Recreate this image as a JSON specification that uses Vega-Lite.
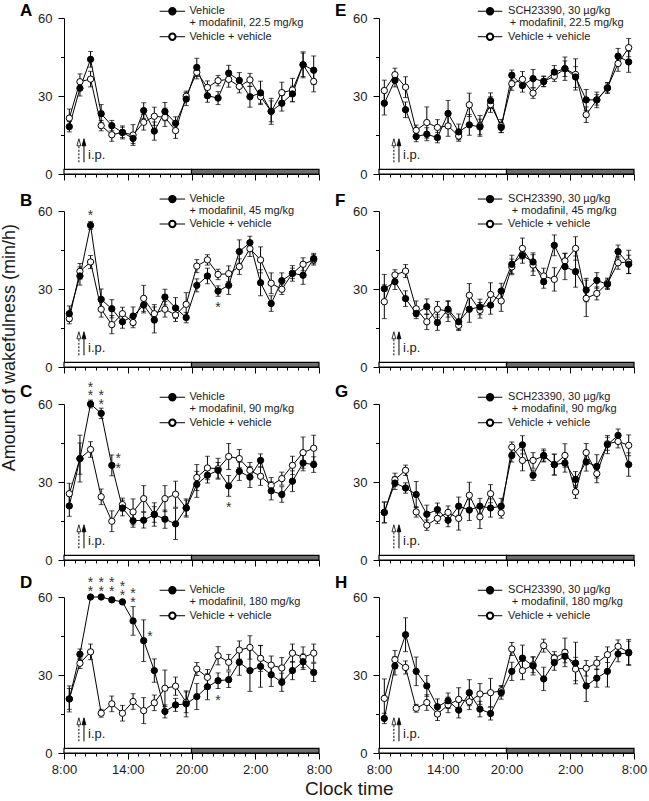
{
"$schema":"https://vega.github.io/schema/vega-lite/v6.json",
"padding":{"left":1,"top":2,"right":0,"bottom":0},
"background":"white",
"config":{"font":"Liberation Sans","view":{"stroke":null},"text":{"color":"#1a1a1a"},"title":{"color":"#1a1a1a"},"axis":{"labelOverlap":false,"labelFlush":false,"labelBound":false}},
"datasets":{
"bands":[{"a":0,"b":12,"ph":"light"},{"a":12,"b":24,"ph":"dark"}],
"ann":[
{"p":"A","k":"A","l1":"Vehicle","l2":"+ modafinil, 22.5 mg/kg","l3":"Vehicle + vehicle"},
{"p":"B","k":"B","l1":"Vehicle","l2":"+ modafinil, 45 mg/kg","l3":"Vehicle + vehicle"},
{"p":"C","k":"C","l1":"Vehicle","l2":"+ modafinil, 90 mg/kg","l3":"Vehicle + vehicle"},
{"p":"D","k":"D","l1":"Vehicle","l2":"+ modafinil, 180 mg/kg","l3":"Vehicle + vehicle"},
{"p":"E","k":"E","l1":"SCH23390, 30 µg/kg","l2":"+ modafinil, 22.5 mg/kg","l3":"Vehicle + vehicle"},
{"p":"F","k":"F","l1":"SCH23390, 30 µg/kg","l2":"+ modafinil, 45 mg/kg","l3":"Vehicle + vehicle"},
{"p":"G","k":"G","l1":"SCH23390, 30 µg/kg","l2":"+ modafinil, 90 mg/kg","l3":"Vehicle + vehicle"},
{"p":"H","k":"H","l1":"SCH23390, 30 µg/kg","l2":"+ modafinil, 180 mg/kg","l3":"Vehicle + vehicle"}],
"stars":[
{"p":"B","t":2.5,"y":59.6},{"p":"B","t":14.5,"y":24.1},
{"p":"C","t":2.5,"y":67.7},{"p":"C","t":2.5,"y":64.5},{"p":"C","t":3.5,"y":64.5},{"p":"C","t":3.5,"y":61},{"p":"C","t":5.1,"y":40.2},{"p":"C","t":5.1,"y":36.7},{"p":"C","t":15.5,"y":21.7},
{"p":"D","t":2.5,"y":66.8},{"p":"D","t":2.5,"y":63.6},{"p":"D","t":3.5,"y":66.8},{"p":"D","t":3.5,"y":63.6},{"p":"D","t":4.5,"y":66.8},{"p":"D","t":4.5,"y":63.6},{"p":"D","t":5.5,"y":65.5},{"p":"D","t":5.5,"y":61.9},{"p":"D","t":6.5,"y":62.7},{"p":"D","t":6.5,"y":59.4},{"p":"D","t":8.1,"y":46.1},{"p":"D","t":14.5,"y":21.7}],
"s":[
{"p":"A","t":0.5,"d":18.2,"ds":2,"v":21.5,"vs":3.5},{"p":"A","t":1.5,"d":33,"ds":3,"v":35.5,"vs":3},{"p":"A","t":2.5,"d":44.1,"ds":3,"v":36.5,"vs":3},{"p":"A","t":3.5,"d":23.2,"ds":3.5,"v":18.6,"vs":2},{"p":"A","t":4.5,"d":18.6,"ds":2,"v":15.1,"vs":2.5},{"p":"A","t":5.5,"d":16,"ds":2.5,"v":16,"vs":2},{"p":"A","t":6.5,"d":13.7,"ds":2,"v":15,"vs":4},{"p":"A","t":7.5,"d":24.4,"ds":3,"v":19.9,"vs":3},{"p":"A","t":8.5,"d":16.5,"ds":3.5,"v":22.2,"vs":3.5},{"p":"A","t":9.5,"d":24,"ds":3.5,"v":21.8,"vs":3.5},{"p":"A","t":10.5,"d":19.5,"ds":2.5,"v":16.7,"vs":3},{"p":"A","t":11.5,"d":28.8,"ds":2.5,"v":29.9,"vs":2},{"p":"A","t":12.5,"d":41,"ds":3.5,"v":39.1,"vs":2.5},{"p":"A","t":13.5,"d":30.1,"ds":2.5,"v":33.3,"vs":2.5},{"p":"A","t":14.5,"d":29.2,"ds":2.5,"v":35.9,"vs":2},{"p":"A","t":15.5,"d":38.8,"ds":3,"v":36.4,"vs":3},{"p":"A","t":16.5,"d":36,"ds":3,"v":33.7,"vs":2.5},{"p":"A","t":17.5,"d":29.7,"ds":4,"v":36.2,"vs":2.5},{"p":"A","t":18.5,"d":31.2,"ds":4.5,"v":29.7,"vs":2.5},{"p":"A","t":19.5,"d":24.1,"ds":4,"v":24.1,"vs":5},{"p":"A","t":20.5,"d":27.2,"ds":3,"v":31.3,"vs":4},{"p":"A","t":21.5,"d":30.8,"ds":3,"v":32.3,"vs":4.5},{"p":"A","t":22.5,"d":42,"ds":5,"v":42,"vs":4.5},{"p":"A","t":23.5,"d":39.9,"ds":5.5,"v":35.6,"vs":4},
{"p":"B","t":0.5,"d":20.5,"ds":3,"v":18.6,"vs":2},{"p":"B","t":1.5,"d":35,"ds":3.5,"v":36.8,"vs":3},{"p":"B","t":2.5,"d":54.5,"ds":1.5,"v":40.4,"vs":2.5},{"p":"B","t":3.5,"d":26,"ds":4,"v":22.2,"vs":3},{"p":"B","t":4.5,"d":22.4,"ds":3.5,"v":16.3,"vs":3.5},{"p":"B","t":5.5,"d":17.4,"ds":2.5,"v":20.5,"vs":2.5},{"p":"B","t":6.5,"d":19.6,"ds":3.5,"v":17.1,"vs":2},{"p":"B","t":7.5,"d":23.8,"ds":3,"v":26.4,"vs":5},{"p":"B","t":8.5,"d":18.1,"ds":5,"v":20.5,"vs":3.5},{"p":"B","t":9.5,"d":26.9,"ds":3,"v":22.2,"vs":3},{"p":"B","t":10.5,"d":22.7,"ds":4,"v":20,"vs":2.5},{"p":"B","t":11.5,"d":19,"ds":2,"v":24.1,"vs":4.5},{"p":"B","t":12.5,"d":31.4,"ds":2.5,"v":38.8,"vs":2.5},{"p":"B","t":13.5,"d":35,"ds":3,"v":41.2,"vs":2},{"p":"B","t":14.5,"d":29.2,"ds":2,"v":35.6,"vs":2},{"p":"B","t":15.5,"d":31.4,"ds":3.5,"v":35.9,"vs":3},{"p":"B","t":16.5,"d":44.4,"ds":4.5,"v":38.6,"vs":3},{"p":"B","t":17.5,"d":47.8,"ds":2.5,"v":45.5,"vs":3},{"p":"B","t":18.5,"d":32.4,"ds":5,"v":41.2,"vs":5},{"p":"B","t":19.5,"d":24.4,"ds":3,"v":32.2,"vs":4},{"p":"B","t":20.5,"d":33.2,"ds":3,"v":29.9,"vs":2},{"p":"B","t":21.5,"d":36,"ds":3,"v":36,"vs":2},{"p":"B","t":22.5,"d":35.3,"ds":3.5,"v":39.5,"vs":2.5},{"p":"B","t":23.5,"d":41.7,"ds":2,"v":41.2,"vs":2},
{"p":"C","t":0.5,"d":20.8,"ds":4,"v":25.5,"vs":4},{"p":"C","t":1.5,"d":39,"ds":9,"v":39,"vs":6},{"p":"C","t":2.5,"d":60,"ds":1.5,"v":42.5,"vs":3},{"p":"C","t":3.5,"d":56.4,"ds":2,"v":24.3,"vs":3},{"p":"C","t":4.5,"d":36.4,"ds":4,"v":14.9,"vs":4},{"p":"C","t":5.5,"d":20,"ds":3,"v":21.3,"vs":2.5},{"p":"C","t":6.5,"d":15.1,"ds":2.5,"v":18.5,"vs":5},{"p":"C","t":7.5,"d":15.3,"ds":3,"v":23.6,"vs":5},{"p":"C","t":8.5,"d":17.5,"ds":3,"v":17.5,"vs":4.5},{"p":"C","t":9.5,"d":15.7,"ds":3.5,"v":23.6,"vs":5},{"p":"C","t":10.5,"d":13.9,"ds":6,"v":25.3,"vs":5},{"p":"C","t":11.5,"d":20,"ds":3.5,"v":20,"vs":3},{"p":"C","t":12.5,"d":29.1,"ds":5,"v":31.7,"vs":5},{"p":"C","t":13.5,"d":32.6,"ds":3,"v":35.4,"vs":4.5},{"p":"C","t":14.5,"d":34.5,"ds":3,"v":35.1,"vs":4},{"p":"C","t":15.5,"d":28.5,"ds":4,"v":39.8,"vs":5},{"p":"C","t":16.5,"d":34.1,"ds":3.5,"v":39,"vs":3.5},{"p":"C","t":17.5,"d":31.9,"ds":4,"v":34.5,"vs":3},{"p":"C","t":18.5,"d":38.3,"ds":2.5,"v":32.2,"vs":3.5},{"p":"C","t":19.5,"d":26.6,"ds":3.5,"v":28.7,"vs":3},{"p":"C","t":20.5,"d":25.2,"ds":3,"v":31.3,"vs":2.5},{"p":"C","t":21.5,"d":30.3,"ds":4,"v":36.4,"vs":3.5},{"p":"C","t":22.5,"d":37.3,"ds":3,"v":41.3,"vs":6},{"p":"C","t":23.5,"d":36.7,"ds":3,"v":43,"vs":5},
{"p":"D","t":0.5,"d":20.8,"ds":5,"v":20.8,"vs":4},{"p":"D","t":1.5,"d":38,"ds":2,"v":34.5,"vs":2},{"p":"D","t":2.5,"d":60,"ds":0.5,"v":38.9,"vs":3},{"p":"D","t":3.5,"d":60,"ds":0.5,"v":15.3,"vs":1.5},{"p":"D","t":4.5,"d":58.9,"ds":1,"v":18.9,"vs":3},{"p":"D","t":5.5,"d":58.1,"ds":1,"v":15.3,"vs":3},{"p":"D","t":6.5,"d":50.8,"ds":5.5,"v":19.8,"vs":3},{"p":"D","t":7.5,"d":43.2,"ds":8,"v":16.3,"vs":5},{"p":"D","t":8.5,"d":31.7,"ds":4.5,"v":19.3,"vs":3},{"p":"D","t":9.5,"d":16,"ds":2.5,"v":24.9,"vs":7},{"p":"D","t":10.5,"d":18.5,"ds":2.5,"v":25.7,"vs":3.5},{"p":"D","t":11.5,"d":18.9,"ds":5,"v":19.5,"vs":4},{"p":"D","t":12.5,"d":21.7,"ds":5,"v":32.3,"vs":2.5},{"p":"D","t":13.5,"d":25.5,"ds":5,"v":29.1,"vs":3},{"p":"D","t":14.5,"d":27.8,"ds":3,"v":37.4,"vs":3.5},{"p":"D","t":15.5,"d":28.2,"ds":3,"v":34.9,"vs":3},{"p":"D","t":16.5,"d":34.9,"ds":5,"v":39.6,"vs":3.5},{"p":"D","t":17.5,"d":31.7,"ds":8,"v":40.6,"vs":4.5},{"p":"D","t":18.5,"d":33.3,"ds":8,"v":36.4,"vs":5},{"p":"D","t":19.5,"d":30.1,"ds":4.5,"v":33.8,"vs":3.5},{"p":"D","t":20.5,"d":27.2,"ds":3.5,"v":32.7,"vs":4},{"p":"D","t":21.5,"d":31.7,"ds":3.5,"v":38.4,"vs":3.5},{"p":"D","t":22.5,"d":35.1,"ds":3,"v":36.8,"vs":4},{"p":"D","t":23.5,"d":31,"ds":3.5,"v":38.4,"vs":3.5},
{"p":"E","t":0.5,"d":27.2,"ds":4.5,"v":32.1,"vs":4},{"p":"E","t":1.5,"d":36,"ds":2.5,"v":38.2,"vs":2.5},{"p":"E","t":2.5,"d":24.7,"ds":3,"v":33.4,"vs":4},{"p":"E","t":3.5,"d":14.4,"ds":2,"v":16.8,"vs":2},{"p":"E","t":4.5,"d":15.3,"ds":2.5,"v":19.8,"vs":6},{"p":"E","t":5.5,"d":14,"ds":2,"v":17.9,"vs":3},{"p":"E","t":6.5,"d":23.3,"ds":5,"v":18.5,"vs":4},{"p":"E","t":7.5,"d":16.2,"ds":3,"v":14.6,"vs":2},{"p":"E","t":8.5,"d":18.9,"ds":4,"v":26.6,"vs":4.5},{"p":"E","t":9.5,"d":18.1,"ds":3,"v":18.5,"vs":4},{"p":"E","t":10.5,"d":28.2,"ds":3,"v":26.7,"vs":3},{"p":"E","t":11.5,"d":17.9,"ds":2,"v":18.5,"vs":2.5},{"p":"E","t":12.5,"d":38,"ds":2,"v":34.7,"vs":2.5},{"p":"E","t":13.5,"d":34,"ds":2.5,"v":36.4,"vs":3},{"p":"E","t":14.5,"d":36.7,"ds":3.5,"v":31.1,"vs":2},{"p":"E","t":15.5,"d":35.6,"ds":2,"v":35.6,"vs":2},{"p":"E","t":16.5,"d":39.2,"ds":2.5,"v":37.6,"vs":2},{"p":"E","t":17.5,"d":40.5,"ds":4.5,"v":40.5,"vs":3},{"p":"E","t":18.5,"d":37.3,"ds":4,"v":38.3,"vs":6},{"p":"E","t":19.5,"d":28.5,"ds":4,"v":22.8,"vs":3},{"p":"E","t":20.5,"d":28.5,"ds":3,"v":28.5,"vs":2},{"p":"E","t":21.5,"d":33,"ds":2,"v":33.2,"vs":2},{"p":"E","t":22.5,"d":45.3,"ds":3,"v":42.5,"vs":3},{"p":"E","t":23.5,"d":43.1,"ds":4,"v":48.6,"vs":3.5},
{"p":"F","t":0.5,"d":30.1,"ds":5.5,"v":25.1,"vs":6.5},{"p":"F","t":1.5,"d":32.8,"ds":3,"v":35.4,"vs":2},{"p":"F","t":2.5,"d":26.3,"ds":3,"v":36.9,"vs":2.5},{"p":"F","t":3.5,"d":20.6,"ds":2,"v":22.4,"vs":3},{"p":"F","t":4.5,"d":23.2,"ds":3,"v":17.4,"vs":3},{"p":"F","t":5.5,"d":17.1,"ds":3,"v":22.2,"vs":3},{"p":"F","t":6.5,"d":22.2,"ds":3,"v":21.5,"vs":4},{"p":"F","t":7.5,"d":17.4,"ds":3,"v":16,"vs":2},{"p":"F","t":8.5,"d":22.2,"ds":5,"v":27.6,"vs":4.5},{"p":"F","t":9.5,"d":23.1,"ds":3,"v":21.8,"vs":3},{"p":"F","t":10.5,"d":23.8,"ds":3.5,"v":27.9,"vs":4.5},{"p":"F","t":11.5,"d":29.2,"ds":3,"v":25.4,"vs":4},{"p":"F","t":12.5,"d":39.5,"ds":3.5,"v":38.5,"vs":3},{"p":"F","t":13.5,"d":42.9,"ds":3,"v":45.6,"vs":4},{"p":"F","t":14.5,"d":40.4,"ds":3.5,"v":39.2,"vs":4},{"p":"F","t":15.5,"d":32.8,"ds":2.5,"v":35,"vs":3},{"p":"F","t":16.5,"d":46.8,"ds":4,"v":33.7,"vs":4.5},{"p":"F","t":17.5,"d":38.6,"ds":5,"v":40.8,"vs":3},{"p":"F","t":18.5,"d":36.7,"ds":6,"v":45.6,"vs":4.5},{"p":"F","t":19.5,"d":29.6,"ds":4.5,"v":26.4,"vs":7},{"p":"F","t":20.5,"d":33.3,"ds":3,"v":28.3,"vs":2.5},{"p":"F","t":21.5,"d":31.8,"ds":2,"v":32.2,"vs":2},{"p":"F","t":22.5,"d":44.4,"ds":2.5,"v":40.1,"vs":2.5},{"p":"F","t":23.5,"d":39.5,"ds":3.5,"v":40.4,"vs":4.5},
{"p":"G","t":0.5,"d":18.3,"ds":4,"v":18.3,"vs":4},{"p":"G","t":1.5,"d":29.6,"ds":2.5,"v":30.9,"vs":2.5},{"p":"G","t":2.5,"d":27.7,"ds":2,"v":34.5,"vs":2},{"p":"G","t":3.5,"d":25.2,"ds":5,"v":18.5,"vs":2},{"p":"G","t":4.5,"d":17.6,"ds":3.5,"v":13.4,"vs":2},{"p":"G","t":5.5,"d":19.4,"ds":2.5,"v":16,"vs":2},{"p":"G","t":6.5,"d":15.3,"ds":2.5,"v":18.3,"vs":2.5},{"p":"G","t":7.5,"d":20.7,"ds":3.5,"v":16,"vs":4.5},{"p":"G","t":8.5,"d":19.2,"ds":4,"v":24.9,"vs":5},{"p":"G","t":9.5,"d":20.7,"ds":3,"v":16.6,"vs":4.5},{"p":"G","t":10.5,"d":20,"ds":3.5,"v":25.5,"vs":3.5},{"p":"G","t":11.5,"d":20.7,"ds":3,"v":18.1,"vs":2},{"p":"G","t":12.5,"d":40.2,"ds":2.5,"v":43.4,"vs":2},{"p":"G","t":13.5,"d":44.3,"ds":3.5,"v":38.3,"vs":4},{"p":"G","t":14.5,"d":32.6,"ds":2,"v":38.3,"vs":3},{"p":"G","t":15.5,"d":40.2,"ds":2.5,"v":40,"vs":2},{"p":"G","t":16.5,"d":36.7,"ds":4,"v":36.7,"vs":4},{"p":"G","t":17.5,"d":37.3,"ds":3.5,"v":40.2,"vs":4.5},{"p":"G","t":18.5,"d":31,"ds":3,"v":26.2,"vs":2.5},{"p":"G","t":19.5,"d":37.7,"ds":3.5,"v":41.3,"vs":3.5},{"p":"G","t":20.5,"d":36,"ds":4.5,"v":33.2,"vs":3.5},{"p":"G","t":21.5,"d":44.4,"ds":3.5,"v":44.7,"vs":2.5},{"p":"G","t":22.5,"d":47.9,"ds":2.5,"v":45.6,"vs":2.5},{"p":"G","t":23.5,"d":36.7,"ds":4.5,"v":44.1,"vs":4},
{"p":"H","t":0.5,"d":13.3,"ds":2,"v":21,"vs":7.5},{"p":"H","t":1.5,"d":33.5,"ds":3.5,"v":35.9,"vs":3.5},{"p":"H","t":2.5,"d":45.5,"ds":6.5,"v":32.9,"vs":2.5},{"p":"H","t":3.5,"d":31.4,"ds":5.5,"v":17.2,"vs":1.5},{"p":"H","t":4.5,"d":25.8,"ds":4,"v":19.4,"vs":3},{"p":"H","t":5.5,"d":17.8,"ds":3,"v":15,"vs":2.5},{"p":"H","t":6.5,"d":20.1,"ds":3,"v":18.5,"vs":3},{"p":"H","t":7.5,"d":16.5,"ds":3,"v":20.6,"vs":4.5},{"p":"H","t":8.5,"d":23.2,"ds":5,"v":19.7,"vs":3},{"p":"H","t":9.5,"d":16.9,"ds":3,"v":22.7,"vs":4},{"p":"H","t":10.5,"d":15.2,"ds":2.5,"v":23.2,"vs":5.5},{"p":"H","t":11.5,"d":23.2,"ds":2.5,"v":23.9,"vs":2},{"p":"H","t":12.5,"d":31.4,"ds":3.5,"v":40,"vs":2.5},{"p":"H","t":13.5,"d":36.5,"ds":5,"v":31.7,"vs":3.5},{"p":"H","t":14.5,"d":33.5,"ds":3.5,"v":33.9,"vs":3},{"p":"H","t":15.5,"d":28.5,"ds":4.5,"v":41.3,"vs":2.5},{"p":"H","t":16.5,"d":34.8,"ds":3,"v":36.5,"vs":2.5},{"p":"H","t":17.5,"d":37.2,"ds":2.5,"v":38.7,"vs":5.5},{"p":"H","t":18.5,"d":34.6,"ds":8,"v":32.3,"vs":4.5},{"p":"H","t":19.5,"d":25.8,"ds":6,"v":32.6,"vs":3},{"p":"H","t":20.5,"d":28.8,"ds":3.5,"v":34.6,"vs":2.5},{"p":"H","t":21.5,"d":31.4,"ds":6,"v":37.8,"vs":3},{"p":"H","t":22.5,"d":38.1,"ds":3,"v":41,"vs":2.5},{"p":"H","t":23.5,"d":38.5,"ds":4.5,"v":38.7,"vs":5}]
},
"title":{"text":"Amount of wakefulness (min/h)","orient":"left","anchor":"middle","fontSize":18,"fontWeight":"normal","offset":1,"dx":53},
"vconcat":[{
"columns":2,"spacing":{"row":37,"column":60},"bounds":"flush",
"title":{"text":"Clock time","orient":"bottom","anchor":"middle","frame":"bounds","fontSize":19,"fontWeight":"normal","offset":4,"dx":16},
"concat":[
{"width":255,"height":156,"layer":[
{"data":{"name":"bands"},"mark":{"type":"rect","stroke":"black","strokeWidth":1.2},"encoding":{"x":{"field":"a","type":"quantitative","scale":{"domain":[0,24],"nice":false,"zero":false},"axis":{"values":[0,1,2,3,4,5,6,7,8,9,10,11,12,13,14,15,16,17,18,19,20,21,22,23,24],"tickCount":25,"labels":false,"labelExpr":"datum.value % 6 === 0 ? ((datum.value + 8) % 24) + ':00' : ''","tickSize":{"condition":{"test":"datum.value % 6 === 0","value":6},"value":3},"grid":false,"title":null,"domainColor":"black","tickColor":"black","labelOverlap":false,"labelFlush":false,"labelFontSize":13,"labelPadding":4,"labelColor":"#1a1a1a"}},"x2":{"field":"b"},"y":{"datum":0,"type":"quantitative","scale":{"domain":[0,60],"nice":false},"axis":{"values":[0,15,30,45,60],"tickCount":5,"labelExpr":"datum.value % 30 === 0 ? datum.label : ''","tickSize":{"condition":{"test":"datum.value % 30 === 0","value":6},"value":3.5},"grid":false,"title":null,"domainColor":"black","tickColor":"black","labelOverlap":false,"labelFontSize":13,"labelPadding":6,"labelColor":"#1a1a1a"}},"y2":{"datum":1.8},"fill":{"condition":{"test":"datum.ph==='light'","value":"white"},"value":"#6e6e6e"}}},
{"data":{"name":"s"},"transform":[{"filter":"datum.p==='A'"}],"encoding":{"x":{"field":"t","type":"quantitative"}},"layer":[
{"mark":{"type":"errorbar","color":"black","ticks":{"size":5}},"encoding":{"y":{"field":"v","type":"quantitative"},"yError":{"field":"vs"}}},
{"mark":{"type":"errorbar","color":"black","ticks":{"size":5}},"encoding":{"y":{"field":"d","type":"quantitative"},"yError":{"field":"ds"}}},
{"mark":{"type":"line","color":"black","strokeWidth":1},"encoding":{"y":{"field":"v","type":"quantitative"}}},
{"mark":{"type":"line","color":"black","strokeWidth":1},"encoding":{"y":{"field":"d","type":"quantitative"}}},
{"mark":{"type":"point","shape":"circle","filled":true,"fill":"white","stroke":"black","strokeWidth":1,"size":40,"opacity":1},"encoding":{"y":{"field":"v","type":"quantitative"}}},
{"mark":{"type":"point","shape":"circle","filled":true,"fill":"black","stroke":"black","strokeWidth":1,"size":40,"opacity":1},"encoding":{"y":{"field":"d","type":"quantitative"}}}]},
{"data":{"name":"ann"},"transform":[{"filter":"datum.p==='A'"}],"layer":[
{"mark":{"type":"text","fontSize":17,"fontWeight":"bold","align":"left","baseline":"middle","color":"black"},"encoding":{"text":{"field":"k"},"x":{"datum":-4.14},"y":{"datum":62.6}}},
{"mark":{"type":"rule","color":"black"},"encoding":{"x":{"datum":9.0},"x2":{"datum":11.4},"y":{"datum":62.6}}},
{"mark":{"type":"rule","color":"black"},"encoding":{"x":{"datum":9.0},"x2":{"datum":11.4},"y":{"datum":52.8}}},
{"mark":{"type":"point","shape":"circle","filled":true,"fill":"black","stroke":"black","size":40,"opacity":1},"encoding":{"x":{"datum":10.2},"y":{"datum":62.6}}},
{"mark":{"type":"point","shape":"circle","filled":true,"fill":"white","stroke":"black","size":40,"opacity":1},"encoding":{"x":{"datum":10.2},"y":{"datum":52.8}}},
{"mark":{"type":"text","fontSize":11,"align":"left","baseline":"middle"},"encoding":{"text":{"field":"l1"},"x":{"datum":11.8},"y":{"datum":62.6}}},
{"mark":{"type":"text","fontSize":11,"align":"left","baseline":"middle"},"encoding":{"text":{"field":"l2"},"x":{"datum":11.8},"y":{"datum":58}}},
{"mark":{"type":"text","fontSize":11,"align":"left","baseline":"middle"},"encoding":{"text":{"field":"l3"},"x":{"datum":11.8},"y":{"datum":52.8}}},
{"mark":{"type":"rule","color":"black","strokeDash":[2,1.5]},"encoding":{"x":{"datum":1.4},"y":{"datum":4.5},"y2":{"datum":11}}},
{"mark":{"type":"rule","color":"black"},"encoding":{"x":{"datum":1.88},"y":{"datum":4.5},"y2":{"datum":11}}},
{"mark":{"type":"point","shape":"M0,-1L0.55,1L-0.55,1Z","filled":true,"fill":"white","stroke":"black","strokeWidth":0.8,"size":49,"opacity":1},"encoding":{"x":{"datum":1.4},"y":{"datum":12.2}}},
{"mark":{"type":"point","shape":"M0,-1L0.55,1L-0.55,1Z","filled":true,"fill":"black","stroke":"black","strokeWidth":0.8,"size":49,"opacity":1},"encoding":{"x":{"datum":1.88},"y":{"datum":12.2}}},
{"mark":{"type":"text","fontSize":13,"align":"left","baseline":"alphabetic","text":"i.p."},"encoding":{"x":{"datum":2.26},"y":{"datum":5.8}}}]}]},

{"width":255,"height":156,"layer":[
{"data":{"name":"bands"},"mark":{"type":"rect","stroke":"black","strokeWidth":1.2},"encoding":{"x":{"field":"a","type":"quantitative","scale":{"domain":[0,24],"nice":false,"zero":false},"axis":{"values":[0,1,2,3,4,5,6,7,8,9,10,11,12,13,14,15,16,17,18,19,20,21,22,23,24],"tickCount":25,"labels":false,"labelExpr":"datum.value % 6 === 0 ? ((datum.value + 8) % 24) + ':00' : ''","tickSize":{"condition":{"test":"datum.value % 6 === 0","value":6},"value":3},"grid":false,"title":null,"domainColor":"black","tickColor":"black","labelOverlap":false,"labelFlush":false,"labelFontSize":13,"labelPadding":4,"labelColor":"#1a1a1a"}},"x2":{"field":"b"},"y":{"datum":0,"type":"quantitative","scale":{"domain":[0,60],"nice":false},"axis":{"values":[0,15,30,45,60],"tickCount":5,"labelExpr":"datum.value % 30 === 0 ? datum.label : ''","tickSize":{"condition":{"test":"datum.value % 30 === 0","value":6},"value":3.5},"grid":false,"title":null,"domainColor":"black","tickColor":"black","labelOverlap":false,"labelFontSize":13,"labelPadding":6,"labelColor":"#1a1a1a"}},"y2":{"datum":1.8},"fill":{"condition":{"test":"datum.ph==='light'","value":"white"},"value":"#6e6e6e"}}},
{"data":{"name":"s"},"transform":[{"filter":"datum.p==='E'"}],"encoding":{"x":{"field":"t","type":"quantitative"}},"layer":[
{"mark":{"type":"errorbar","color":"black","ticks":{"size":5}},"encoding":{"y":{"field":"v","type":"quantitative"},"yError":{"field":"vs"}}},
{"mark":{"type":"errorbar","color":"black","ticks":{"size":5}},"encoding":{"y":{"field":"d","type":"quantitative"},"yError":{"field":"ds"}}},
{"mark":{"type":"line","color":"black","strokeWidth":1},"encoding":{"y":{"field":"v","type":"quantitative"}}},
{"mark":{"type":"line","color":"black","strokeWidth":1},"encoding":{"y":{"field":"d","type":"quantitative"}}},
{"mark":{"type":"point","shape":"circle","filled":true,"fill":"white","stroke":"black","strokeWidth":1,"size":40,"opacity":1},"encoding":{"y":{"field":"v","type":"quantitative"}}},
{"mark":{"type":"point","shape":"circle","filled":true,"fill":"black","stroke":"black","strokeWidth":1,"size":40,"opacity":1},"encoding":{"y":{"field":"d","type":"quantitative"}}}]},
{"data":{"name":"ann"},"transform":[{"filter":"datum.p==='E'"}],"layer":[
{"mark":{"type":"text","fontSize":17,"fontWeight":"bold","align":"left","baseline":"middle","color":"black"},"encoding":{"text":{"field":"k"},"x":{"datum":-4.14},"y":{"datum":62.6}}},
{"mark":{"type":"rule","color":"black"},"encoding":{"x":{"datum":9.3},"x2":{"datum":11.6},"y":{"datum":62.6}}},
{"mark":{"type":"rule","color":"black"},"encoding":{"x":{"datum":9.3},"x2":{"datum":11.6},"y":{"datum":52.8}}},
{"mark":{"type":"point","shape":"circle","filled":true,"fill":"black","stroke":"black","size":40,"opacity":1},"encoding":{"x":{"datum":10.45},"y":{"datum":62.6}}},
{"mark":{"type":"point","shape":"circle","filled":true,"fill":"white","stroke":"black","size":40,"opacity":1},"encoding":{"x":{"datum":10.45},"y":{"datum":52.8}}},
{"mark":{"type":"text","fontSize":11,"align":"left","baseline":"middle"},"encoding":{"text":{"field":"l1"},"x":{"datum":12.15},"y":{"datum":62.6}}},
{"mark":{"type":"text","fontSize":11,"align":"left","baseline":"middle"},"encoding":{"text":{"field":"l2"},"x":{"datum":12.3},"y":{"datum":58}}},
{"mark":{"type":"text","fontSize":11,"align":"left","baseline":"middle"},"encoding":{"text":{"field":"l3"},"x":{"datum":12.15},"y":{"datum":52.8}}},
{"mark":{"type":"rule","color":"black","strokeDash":[2,1.5]},"encoding":{"x":{"datum":1.4},"y":{"datum":4.5},"y2":{"datum":11}}},
{"mark":{"type":"rule","color":"black"},"encoding":{"x":{"datum":1.88},"y":{"datum":4.5},"y2":{"datum":11}}},
{"mark":{"type":"point","shape":"M0,-1L0.55,1L-0.55,1Z","filled":true,"fill":"white","stroke":"black","strokeWidth":0.8,"size":49,"opacity":1},"encoding":{"x":{"datum":1.4},"y":{"datum":12.2}}},
{"mark":{"type":"point","shape":"M0,-1L0.55,1L-0.55,1Z","filled":true,"fill":"black","stroke":"black","strokeWidth":0.8,"size":49,"opacity":1},"encoding":{"x":{"datum":1.88},"y":{"datum":12.2}}},
{"mark":{"type":"text","fontSize":13,"align":"left","baseline":"alphabetic","text":"i.p."},"encoding":{"x":{"datum":2.26},"y":{"datum":5.8}}}]}]},

{"width":255,"height":156,"layer":[
{"data":{"name":"bands"},"mark":{"type":"rect","stroke":"black","strokeWidth":1.2},"encoding":{"x":{"field":"a","type":"quantitative","scale":{"domain":[0,24],"nice":false,"zero":false},"axis":{"values":[0,1,2,3,4,5,6,7,8,9,10,11,12,13,14,15,16,17,18,19,20,21,22,23,24],"tickCount":25,"labels":false,"labelExpr":"datum.value % 6 === 0 ? ((datum.value + 8) % 24) + ':00' : ''","tickSize":{"condition":{"test":"datum.value % 6 === 0","value":6},"value":3},"grid":false,"title":null,"domainColor":"black","tickColor":"black","labelOverlap":false,"labelFlush":false,"labelFontSize":13,"labelPadding":4,"labelColor":"#1a1a1a"}},"x2":{"field":"b"},"y":{"datum":0,"type":"quantitative","scale":{"domain":[0,60],"nice":false},"axis":{"values":[0,15,30,45,60],"tickCount":5,"labelExpr":"datum.value % 30 === 0 ? datum.label : ''","tickSize":{"condition":{"test":"datum.value % 30 === 0","value":6},"value":3.5},"grid":false,"title":null,"domainColor":"black","tickColor":"black","labelOverlap":false,"labelFontSize":13,"labelPadding":6,"labelColor":"#1a1a1a"}},"y2":{"datum":1.8},"fill":{"condition":{"test":"datum.ph==='light'","value":"white"},"value":"#6e6e6e"}}},
{"data":{"name":"s"},"transform":[{"filter":"datum.p==='B'"}],"encoding":{"x":{"field":"t","type":"quantitative"}},"layer":[
{"mark":{"type":"errorbar","color":"black","ticks":{"size":5}},"encoding":{"y":{"field":"v","type":"quantitative"},"yError":{"field":"vs"}}},
{"mark":{"type":"errorbar","color":"black","ticks":{"size":5}},"encoding":{"y":{"field":"d","type":"quantitative"},"yError":{"field":"ds"}}},
{"mark":{"type":"line","color":"black","strokeWidth":1},"encoding":{"y":{"field":"v","type":"quantitative"}}},
{"mark":{"type":"line","color":"black","strokeWidth":1},"encoding":{"y":{"field":"d","type":"quantitative"}}},
{"mark":{"type":"point","shape":"circle","filled":true,"fill":"white","stroke":"black","strokeWidth":1,"size":40,"opacity":1},"encoding":{"y":{"field":"v","type":"quantitative"}}},
{"mark":{"type":"point","shape":"circle","filled":true,"fill":"black","stroke":"black","strokeWidth":1,"size":40,"opacity":1},"encoding":{"y":{"field":"d","type":"quantitative"}}}]},
{"data":{"name":"stars"},"transform":[{"filter":"datum.p==='B'"}],"mark":{"type":"text","text":"*","fontSize":14,"fill":"#333","dy":4},"encoding":{"x":{"field":"t","type":"quantitative"},"y":{"field":"y","type":"quantitative"}}},
{"data":{"name":"ann"},"transform":[{"filter":"datum.p==='B'"}],"layer":[
{"mark":{"type":"text","fontSize":17,"fontWeight":"bold","align":"left","baseline":"middle","color":"black"},"encoding":{"text":{"field":"k"},"x":{"datum":-4.14},"y":{"datum":63.7}}},
{"mark":{"type":"rule","color":"black"},"encoding":{"x":{"datum":9.0},"x2":{"datum":11.4},"y":{"datum":64.6}}},
{"mark":{"type":"rule","color":"black"},"encoding":{"x":{"datum":9.0},"x2":{"datum":11.4},"y":{"datum":55}}},
{"mark":{"type":"point","shape":"circle","filled":true,"fill":"black","stroke":"black","size":40,"opacity":1},"encoding":{"x":{"datum":10.2},"y":{"datum":64.6}}},
{"mark":{"type":"point","shape":"circle","filled":true,"fill":"white","stroke":"black","size":40,"opacity":1},"encoding":{"x":{"datum":10.2},"y":{"datum":55}}},
{"mark":{"type":"text","fontSize":11,"align":"left","baseline":"middle"},"encoding":{"text":{"field":"l1"},"x":{"datum":11.8},"y":{"datum":64.6}}},
{"mark":{"type":"text","fontSize":11,"align":"left","baseline":"middle"},"encoding":{"text":{"field":"l2"},"x":{"datum":11.8},"y":{"datum":60}}},
{"mark":{"type":"text","fontSize":11,"align":"left","baseline":"middle"},"encoding":{"text":{"field":"l3"},"x":{"datum":11.8},"y":{"datum":55}}},
{"mark":{"type":"rule","color":"black","strokeDash":[2,1.5]},"encoding":{"x":{"datum":1.4},"y":{"datum":4.5},"y2":{"datum":11}}},
{"mark":{"type":"rule","color":"black"},"encoding":{"x":{"datum":1.88},"y":{"datum":4.5},"y2":{"datum":11}}},
{"mark":{"type":"point","shape":"M0,-1L0.55,1L-0.55,1Z","filled":true,"fill":"white","stroke":"black","strokeWidth":0.8,"size":49,"opacity":1},"encoding":{"x":{"datum":1.4},"y":{"datum":12.2}}},
{"mark":{"type":"point","shape":"M0,-1L0.55,1L-0.55,1Z","filled":true,"fill":"black","stroke":"black","strokeWidth":0.8,"size":49,"opacity":1},"encoding":{"x":{"datum":1.88},"y":{"datum":12.2}}},
{"mark":{"type":"text","fontSize":13,"align":"left","baseline":"alphabetic","text":"i.p."},"encoding":{"x":{"datum":2.26},"y":{"datum":5.8}}}]}]},

{"width":255,"height":156,"layer":[
{"data":{"name":"bands"},"mark":{"type":"rect","stroke":"black","strokeWidth":1.2},"encoding":{"x":{"field":"a","type":"quantitative","scale":{"domain":[0,24],"nice":false,"zero":false},"axis":{"values":[0,1,2,3,4,5,6,7,8,9,10,11,12,13,14,15,16,17,18,19,20,21,22,23,24],"tickCount":25,"labels":false,"labelExpr":"datum.value % 6 === 0 ? ((datum.value + 8) % 24) + ':00' : ''","tickSize":{"condition":{"test":"datum.value % 6 === 0","value":6},"value":3},"grid":false,"title":null,"domainColor":"black","tickColor":"black","labelOverlap":false,"labelFlush":false,"labelFontSize":13,"labelPadding":4,"labelColor":"#1a1a1a"}},"x2":{"field":"b"},"y":{"datum":0,"type":"quantitative","scale":{"domain":[0,60],"nice":false},"axis":{"values":[0,15,30,45,60],"tickCount":5,"labelExpr":"datum.value % 30 === 0 ? datum.label : ''","tickSize":{"condition":{"test":"datum.value % 30 === 0","value":6},"value":3.5},"grid":false,"title":null,"domainColor":"black","tickColor":"black","labelOverlap":false,"labelFontSize":13,"labelPadding":6,"labelColor":"#1a1a1a"}},"y2":{"datum":1.8},"fill":{"condition":{"test":"datum.ph==='light'","value":"white"},"value":"#6e6e6e"}}},
{"data":{"name":"s"},"transform":[{"filter":"datum.p==='F'"}],"encoding":{"x":{"field":"t","type":"quantitative"}},"layer":[
{"mark":{"type":"errorbar","color":"black","ticks":{"size":5}},"encoding":{"y":{"field":"v","type":"quantitative"},"yError":{"field":"vs"}}},
{"mark":{"type":"errorbar","color":"black","ticks":{"size":5}},"encoding":{"y":{"field":"d","type":"quantitative"},"yError":{"field":"ds"}}},
{"mark":{"type":"line","color":"black","strokeWidth":1},"encoding":{"y":{"field":"v","type":"quantitative"}}},
{"mark":{"type":"line","color":"black","strokeWidth":1},"encoding":{"y":{"field":"d","type":"quantitative"}}},
{"mark":{"type":"point","shape":"circle","filled":true,"fill":"white","stroke":"black","strokeWidth":1,"size":40,"opacity":1},"encoding":{"y":{"field":"v","type":"quantitative"}}},
{"mark":{"type":"point","shape":"circle","filled":true,"fill":"black","stroke":"black","strokeWidth":1,"size":40,"opacity":1},"encoding":{"y":{"field":"d","type":"quantitative"}}}]},
{"data":{"name":"ann"},"transform":[{"filter":"datum.p==='F'"}],"layer":[
{"mark":{"type":"text","fontSize":17,"fontWeight":"bold","align":"left","baseline":"middle","color":"black"},"encoding":{"text":{"field":"k"},"x":{"datum":-4.14},"y":{"datum":63.7}}},
{"mark":{"type":"rule","color":"black"},"encoding":{"x":{"datum":9.3},"x2":{"datum":11.6},"y":{"datum":64.6}}},
{"mark":{"type":"rule","color":"black"},"encoding":{"x":{"datum":9.3},"x2":{"datum":11.6},"y":{"datum":55}}},
{"mark":{"type":"point","shape":"circle","filled":true,"fill":"black","stroke":"black","size":40,"opacity":1},"encoding":{"x":{"datum":10.45},"y":{"datum":64.6}}},
{"mark":{"type":"point","shape":"circle","filled":true,"fill":"white","stroke":"black","size":40,"opacity":1},"encoding":{"x":{"datum":10.45},"y":{"datum":55}}},
{"mark":{"type":"text","fontSize":11,"align":"left","baseline":"middle"},"encoding":{"text":{"field":"l1"},"x":{"datum":12.15},"y":{"datum":64.6}}},
{"mark":{"type":"text","fontSize":11,"align":"left","baseline":"middle"},"encoding":{"text":{"field":"l2"},"x":{"datum":12.5},"y":{"datum":60}}},
{"mark":{"type":"text","fontSize":11,"align":"left","baseline":"middle"},"encoding":{"text":{"field":"l3"},"x":{"datum":12.15},"y":{"datum":55}}},
{"mark":{"type":"rule","color":"black","strokeDash":[2,1.5]},"encoding":{"x":{"datum":1.4},"y":{"datum":4.5},"y2":{"datum":11}}},
{"mark":{"type":"rule","color":"black"},"encoding":{"x":{"datum":1.88},"y":{"datum":4.5},"y2":{"datum":11}}},
{"mark":{"type":"point","shape":"M0,-1L0.55,1L-0.55,1Z","filled":true,"fill":"white","stroke":"black","strokeWidth":0.8,"size":49,"opacity":1},"encoding":{"x":{"datum":1.4},"y":{"datum":12.2}}},
{"mark":{"type":"point","shape":"M0,-1L0.55,1L-0.55,1Z","filled":true,"fill":"black","stroke":"black","strokeWidth":0.8,"size":49,"opacity":1},"encoding":{"x":{"datum":1.88},"y":{"datum":12.2}}},
{"mark":{"type":"text","fontSize":13,"align":"left","baseline":"alphabetic","text":"i.p."},"encoding":{"x":{"datum":2.26},"y":{"datum":5.8}}}]}]},

{"width":255,"height":156,"layer":[
{"data":{"name":"bands"},"mark":{"type":"rect","stroke":"black","strokeWidth":1.2},"encoding":{"x":{"field":"a","type":"quantitative","scale":{"domain":[0,24],"nice":false,"zero":false},"axis":{"values":[0,1,2,3,4,5,6,7,8,9,10,11,12,13,14,15,16,17,18,19,20,21,22,23,24],"tickCount":25,"labels":false,"labelExpr":"datum.value % 6 === 0 ? ((datum.value + 8) % 24) + ':00' : ''","tickSize":{"condition":{"test":"datum.value % 6 === 0","value":6},"value":3},"grid":false,"title":null,"domainColor":"black","tickColor":"black","labelOverlap":false,"labelFlush":false,"labelFontSize":13,"labelPadding":4,"labelColor":"#1a1a1a"}},"x2":{"field":"b"},"y":{"datum":0,"type":"quantitative","scale":{"domain":[0,60],"nice":false},"axis":{"values":[0,15,30,45,60],"tickCount":5,"labelExpr":"datum.value % 30 === 0 ? datum.label : ''","tickSize":{"condition":{"test":"datum.value % 30 === 0","value":6},"value":3.5},"grid":false,"title":null,"domainColor":"black","tickColor":"black","labelOverlap":false,"labelFontSize":13,"labelPadding":6,"labelColor":"#1a1a1a"}},"y2":{"datum":1.8},"fill":{"condition":{"test":"datum.ph==='light'","value":"white"},"value":"#6e6e6e"}}},
{"data":{"name":"s"},"transform":[{"filter":"datum.p==='C'"}],"encoding":{"x":{"field":"t","type":"quantitative"}},"layer":[
{"mark":{"type":"errorbar","color":"black","ticks":{"size":5}},"encoding":{"y":{"field":"v","type":"quantitative"},"yError":{"field":"vs"}}},
{"mark":{"type":"errorbar","color":"black","ticks":{"size":5}},"encoding":{"y":{"field":"d","type":"quantitative"},"yError":{"field":"ds"}}},
{"mark":{"type":"line","color":"black","strokeWidth":1},"encoding":{"y":{"field":"v","type":"quantitative"}}},
{"mark":{"type":"line","color":"black","strokeWidth":1},"encoding":{"y":{"field":"d","type":"quantitative"}}},
{"mark":{"type":"point","shape":"circle","filled":true,"fill":"white","stroke":"black","strokeWidth":1,"size":40,"opacity":1},"encoding":{"y":{"field":"v","type":"quantitative"}}},
{"mark":{"type":"point","shape":"circle","filled":true,"fill":"black","stroke":"black","strokeWidth":1,"size":40,"opacity":1},"encoding":{"y":{"field":"d","type":"quantitative"}}}]},
{"data":{"name":"stars"},"transform":[{"filter":"datum.p==='C'"}],"mark":{"type":"text","text":"*","fontSize":14,"fill":"#333","dy":4},"encoding":{"x":{"field":"t","type":"quantitative"},"y":{"field":"y","type":"quantitative"}}},
{"data":{"name":"ann"},"transform":[{"filter":"datum.p==='C'"}],"layer":[
{"mark":{"type":"text","fontSize":17,"fontWeight":"bold","align":"left","baseline":"middle","color":"black"},"encoding":{"text":{"field":"k"},"x":{"datum":-4.14},"y":{"datum":64.5}}},
{"mark":{"type":"rule","color":"black"},"encoding":{"x":{"datum":9.0},"x2":{"datum":11.4},"y":{"datum":62.6}}},
{"mark":{"type":"rule","color":"black"},"encoding":{"x":{"datum":9.0},"x2":{"datum":11.4},"y":{"datum":52.8}}},
{"mark":{"type":"point","shape":"circle","filled":true,"fill":"black","stroke":"black","size":40,"opacity":1},"encoding":{"x":{"datum":10.2},"y":{"datum":62.6}}},
{"mark":{"type":"point","shape":"circle","filled":true,"fill":"white","stroke":"black","size":40,"opacity":1},"encoding":{"x":{"datum":10.2},"y":{"datum":52.8}}},
{"mark":{"type":"text","fontSize":11,"align":"left","baseline":"middle"},"encoding":{"text":{"field":"l1"},"x":{"datum":11.8},"y":{"datum":62.6}}},
{"mark":{"type":"text","fontSize":11,"align":"left","baseline":"middle"},"encoding":{"text":{"field":"l2"},"x":{"datum":11.8},"y":{"datum":58}}},
{"mark":{"type":"text","fontSize":11,"align":"left","baseline":"middle"},"encoding":{"text":{"field":"l3"},"x":{"datum":11.8},"y":{"datum":52.8}}},
{"mark":{"type":"rule","color":"black","strokeDash":[2,1.5]},"encoding":{"x":{"datum":1.4},"y":{"datum":4.5},"y2":{"datum":11}}},
{"mark":{"type":"rule","color":"black"},"encoding":{"x":{"datum":1.88},"y":{"datum":4.5},"y2":{"datum":11}}},
{"mark":{"type":"point","shape":"M0,-1L0.55,1L-0.55,1Z","filled":true,"fill":"white","stroke":"black","strokeWidth":0.8,"size":49,"opacity":1},"encoding":{"x":{"datum":1.4},"y":{"datum":12.2}}},
{"mark":{"type":"point","shape":"M0,-1L0.55,1L-0.55,1Z","filled":true,"fill":"black","stroke":"black","strokeWidth":0.8,"size":49,"opacity":1},"encoding":{"x":{"datum":1.88},"y":{"datum":12.2}}},
{"mark":{"type":"text","fontSize":13,"align":"left","baseline":"alphabetic","text":"i.p."},"encoding":{"x":{"datum":2.26},"y":{"datum":5.8}}}]}]},

{"width":255,"height":156,"layer":[
{"data":{"name":"bands"},"mark":{"type":"rect","stroke":"black","strokeWidth":1.2},"encoding":{"x":{"field":"a","type":"quantitative","scale":{"domain":[0,24],"nice":false,"zero":false},"axis":{"values":[0,1,2,3,4,5,6,7,8,9,10,11,12,13,14,15,16,17,18,19,20,21,22,23,24],"tickCount":25,"labels":false,"labelExpr":"datum.value % 6 === 0 ? ((datum.value + 8) % 24) + ':00' : ''","tickSize":{"condition":{"test":"datum.value % 6 === 0","value":6},"value":3},"grid":false,"title":null,"domainColor":"black","tickColor":"black","labelOverlap":false,"labelFlush":false,"labelFontSize":13,"labelPadding":4,"labelColor":"#1a1a1a"}},"x2":{"field":"b"},"y":{"datum":0,"type":"quantitative","scale":{"domain":[0,60],"nice":false},"axis":{"values":[0,15,30,45,60],"tickCount":5,"labelExpr":"datum.value % 30 === 0 ? datum.label : ''","tickSize":{"condition":{"test":"datum.value % 30 === 0","value":6},"value":3.5},"grid":false,"title":null,"domainColor":"black","tickColor":"black","labelOverlap":false,"labelFontSize":13,"labelPadding":6,"labelColor":"#1a1a1a"}},"y2":{"datum":1.8},"fill":{"condition":{"test":"datum.ph==='light'","value":"white"},"value":"#6e6e6e"}}},
{"data":{"name":"s"},"transform":[{"filter":"datum.p==='G'"}],"encoding":{"x":{"field":"t","type":"quantitative"}},"layer":[
{"mark":{"type":"errorbar","color":"black","ticks":{"size":5}},"encoding":{"y":{"field":"v","type":"quantitative"},"yError":{"field":"vs"}}},
{"mark":{"type":"errorbar","color":"black","ticks":{"size":5}},"encoding":{"y":{"field":"d","type":"quantitative"},"yError":{"field":"ds"}}},
{"mark":{"type":"line","color":"black","strokeWidth":1},"encoding":{"y":{"field":"v","type":"quantitative"}}},
{"mark":{"type":"line","color":"black","strokeWidth":1},"encoding":{"y":{"field":"d","type":"quantitative"}}},
{"mark":{"type":"point","shape":"circle","filled":true,"fill":"white","stroke":"black","strokeWidth":1,"size":40,"opacity":1},"encoding":{"y":{"field":"v","type":"quantitative"}}},
{"mark":{"type":"point","shape":"circle","filled":true,"fill":"black","stroke":"black","strokeWidth":1,"size":40,"opacity":1},"encoding":{"y":{"field":"d","type":"quantitative"}}}]},
{"data":{"name":"ann"},"transform":[{"filter":"datum.p==='G'"}],"layer":[
{"mark":{"type":"text","fontSize":17,"fontWeight":"bold","align":"left","baseline":"middle","color":"black"},"encoding":{"text":{"field":"k"},"x":{"datum":-4.14},"y":{"datum":64.5}}},
{"mark":{"type":"rule","color":"black"},"encoding":{"x":{"datum":9.3},"x2":{"datum":11.6},"y":{"datum":62.6}}},
{"mark":{"type":"rule","color":"black"},"encoding":{"x":{"datum":9.3},"x2":{"datum":11.6},"y":{"datum":52.8}}},
{"mark":{"type":"point","shape":"circle","filled":true,"fill":"black","stroke":"black","size":40,"opacity":1},"encoding":{"x":{"datum":10.45},"y":{"datum":62.6}}},
{"mark":{"type":"point","shape":"circle","filled":true,"fill":"white","stroke":"black","size":40,"opacity":1},"encoding":{"x":{"datum":10.45},"y":{"datum":52.8}}},
{"mark":{"type":"text","fontSize":11,"align":"left","baseline":"middle"},"encoding":{"text":{"field":"l1"},"x":{"datum":12.15},"y":{"datum":62.6}}},
{"mark":{"type":"text","fontSize":11,"align":"left","baseline":"middle"},"encoding":{"text":{"field":"l2"},"x":{"datum":12.5},"y":{"datum":58}}},
{"mark":{"type":"text","fontSize":11,"align":"left","baseline":"middle"},"encoding":{"text":{"field":"l3"},"x":{"datum":12.15},"y":{"datum":52.8}}},
{"mark":{"type":"rule","color":"black","strokeDash":[2,1.5]},"encoding":{"x":{"datum":1.4},"y":{"datum":4.5},"y2":{"datum":11}}},
{"mark":{"type":"rule","color":"black"},"encoding":{"x":{"datum":1.88},"y":{"datum":4.5},"y2":{"datum":11}}},
{"mark":{"type":"point","shape":"M0,-1L0.55,1L-0.55,1Z","filled":true,"fill":"white","stroke":"black","strokeWidth":0.8,"size":49,"opacity":1},"encoding":{"x":{"datum":1.4},"y":{"datum":12.2}}},
{"mark":{"type":"point","shape":"M0,-1L0.55,1L-0.55,1Z","filled":true,"fill":"black","stroke":"black","strokeWidth":0.8,"size":49,"opacity":1},"encoding":{"x":{"datum":1.88},"y":{"datum":12.2}}},
{"mark":{"type":"text","fontSize":13,"align":"left","baseline":"alphabetic","text":"i.p."},"encoding":{"x":{"datum":2.26},"y":{"datum":5.8}}}]}]},

{"width":255,"height":156,"layer":[
{"data":{"name":"bands"},"mark":{"type":"rect","stroke":"black","strokeWidth":1.2},"encoding":{"x":{"field":"a","type":"quantitative","scale":{"domain":[0,24],"nice":false,"zero":false},"axis":{"values":[0,1,2,3,4,5,6,7,8,9,10,11,12,13,14,15,16,17,18,19,20,21,22,23,24],"tickCount":25,"labels":true,"labelExpr":"datum.value % 6 === 0 ? ((datum.value + 8) % 24) + ':00' : ''","tickSize":{"condition":{"test":"datum.value % 6 === 0","value":6},"value":3},"grid":false,"title":null,"domainColor":"black","tickColor":"black","labelOverlap":false,"labelFlush":false,"labelFontSize":13,"labelPadding":4,"labelColor":"#1a1a1a"}},"x2":{"field":"b"},"y":{"datum":0,"type":"quantitative","scale":{"domain":[0,60],"nice":false},"axis":{"values":[0,15,30,45,60],"tickCount":5,"labelExpr":"datum.value % 30 === 0 ? datum.label : ''","tickSize":{"condition":{"test":"datum.value % 30 === 0","value":6},"value":3.5},"grid":false,"title":null,"domainColor":"black","tickColor":"black","labelOverlap":false,"labelFontSize":13,"labelPadding":6,"labelColor":"#1a1a1a"}},"y2":{"datum":1.8},"fill":{"condition":{"test":"datum.ph==='light'","value":"white"},"value":"#6e6e6e"}}},
{"data":{"name":"s"},"transform":[{"filter":"datum.p==='D'"}],"encoding":{"x":{"field":"t","type":"quantitative"}},"layer":[
{"mark":{"type":"errorbar","color":"black","ticks":{"size":5}},"encoding":{"y":{"field":"v","type":"quantitative"},"yError":{"field":"vs"}}},
{"mark":{"type":"errorbar","color":"black","ticks":{"size":5}},"encoding":{"y":{"field":"d","type":"quantitative"},"yError":{"field":"ds"}}},
{"mark":{"type":"line","color":"black","strokeWidth":1},"encoding":{"y":{"field":"v","type":"quantitative"}}},
{"mark":{"type":"line","color":"black","strokeWidth":1},"encoding":{"y":{"field":"d","type":"quantitative"}}},
{"mark":{"type":"point","shape":"circle","filled":true,"fill":"white","stroke":"black","strokeWidth":1,"size":40,"opacity":1},"encoding":{"y":{"field":"v","type":"quantitative"}}},
{"mark":{"type":"point","shape":"circle","filled":true,"fill":"black","stroke":"black","strokeWidth":1,"size":40,"opacity":1},"encoding":{"y":{"field":"d","type":"quantitative"}}}]},
{"data":{"name":"stars"},"transform":[{"filter":"datum.p==='D'"}],"mark":{"type":"text","text":"*","fontSize":14,"fill":"#333","dy":4},"encoding":{"x":{"field":"t","type":"quantitative"},"y":{"field":"y","type":"quantitative"}}},
{"data":{"name":"ann"},"transform":[{"filter":"datum.p==='D'"}],"layer":[
{"mark":{"type":"text","fontSize":17,"fontWeight":"bold","align":"left","baseline":"middle","color":"black"},"encoding":{"text":{"field":"k"},"x":{"datum":-4.14},"y":{"datum":65.4}}},
{"mark":{"type":"rule","color":"black"},"encoding":{"x":{"datum":9.0},"x2":{"datum":11.4},"y":{"datum":62.6}}},
{"mark":{"type":"rule","color":"black"},"encoding":{"x":{"datum":9.0},"x2":{"datum":11.4},"y":{"datum":52.8}}},
{"mark":{"type":"point","shape":"circle","filled":true,"fill":"black","stroke":"black","size":40,"opacity":1},"encoding":{"x":{"datum":10.2},"y":{"datum":62.6}}},
{"mark":{"type":"point","shape":"circle","filled":true,"fill":"white","stroke":"black","size":40,"opacity":1},"encoding":{"x":{"datum":10.2},"y":{"datum":52.8}}},
{"mark":{"type":"text","fontSize":11,"align":"left","baseline":"middle"},"encoding":{"text":{"field":"l1"},"x":{"datum":11.8},"y":{"datum":62.6}}},
{"mark":{"type":"text","fontSize":11,"align":"left","baseline":"middle"},"encoding":{"text":{"field":"l2"},"x":{"datum":11.8},"y":{"datum":58}}},
{"mark":{"type":"text","fontSize":11,"align":"left","baseline":"middle"},"encoding":{"text":{"field":"l3"},"x":{"datum":11.8},"y":{"datum":52.8}}},
{"mark":{"type":"rule","color":"black","strokeDash":[2,1.5]},"encoding":{"x":{"datum":1.4},"y":{"datum":4.5},"y2":{"datum":11}}},
{"mark":{"type":"rule","color":"black"},"encoding":{"x":{"datum":1.88},"y":{"datum":4.5},"y2":{"datum":11}}},
{"mark":{"type":"point","shape":"M0,-1L0.55,1L-0.55,1Z","filled":true,"fill":"white","stroke":"black","strokeWidth":0.8,"size":49,"opacity":1},"encoding":{"x":{"datum":1.4},"y":{"datum":12.2}}},
{"mark":{"type":"point","shape":"M0,-1L0.55,1L-0.55,1Z","filled":true,"fill":"black","stroke":"black","strokeWidth":0.8,"size":49,"opacity":1},"encoding":{"x":{"datum":1.88},"y":{"datum":12.2}}},
{"mark":{"type":"text","fontSize":13,"align":"left","baseline":"alphabetic","text":"i.p."},"encoding":{"x":{"datum":2.26},"y":{"datum":5.8}}}]}]},

{"width":255,"height":156,"layer":[
{"data":{"name":"bands"},"mark":{"type":"rect","stroke":"black","strokeWidth":1.2},"encoding":{"x":{"field":"a","type":"quantitative","scale":{"domain":[0,24],"nice":false,"zero":false},"axis":{"values":[0,1,2,3,4,5,6,7,8,9,10,11,12,13,14,15,16,17,18,19,20,21,22,23,24],"tickCount":25,"labels":true,"labelExpr":"datum.value % 6 === 0 ? ((datum.value + 8) % 24) + ':00' : ''","tickSize":{"condition":{"test":"datum.value % 6 === 0","value":6},"value":3},"grid":false,"title":null,"domainColor":"black","tickColor":"black","labelOverlap":false,"labelFlush":false,"labelFontSize":13,"labelPadding":4,"labelColor":"#1a1a1a"}},"x2":{"field":"b"},"y":{"datum":0,"type":"quantitative","scale":{"domain":[0,60],"nice":false},"axis":{"values":[0,15,30,45,60],"tickCount":5,"labelExpr":"datum.value % 30 === 0 ? datum.label : ''","tickSize":{"condition":{"test":"datum.value % 30 === 0","value":6},"value":3.5},"grid":false,"title":null,"domainColor":"black","tickColor":"black","labelOverlap":false,"labelFontSize":13,"labelPadding":6,"labelColor":"#1a1a1a"}},"y2":{"datum":1.8},"fill":{"condition":{"test":"datum.ph==='light'","value":"white"},"value":"#6e6e6e"}}},
{"data":{"name":"s"},"transform":[{"filter":"datum.p==='H'"}],"encoding":{"x":{"field":"t","type":"quantitative"}},"layer":[
{"mark":{"type":"errorbar","color":"black","ticks":{"size":5}},"encoding":{"y":{"field":"v","type":"quantitative"},"yError":{"field":"vs"}}},
{"mark":{"type":"errorbar","color":"black","ticks":{"size":5}},"encoding":{"y":{"field":"d","type":"quantitative"},"yError":{"field":"ds"}}},
{"mark":{"type":"line","color":"black","strokeWidth":1},"encoding":{"y":{"field":"v","type":"quantitative"}}},
{"mark":{"type":"line","color":"black","strokeWidth":1},"encoding":{"y":{"field":"d","type":"quantitative"}}},
{"mark":{"type":"point","shape":"circle","filled":true,"fill":"white","stroke":"black","strokeWidth":1,"size":40,"opacity":1},"encoding":{"y":{"field":"v","type":"quantitative"}}},
{"mark":{"type":"point","shape":"circle","filled":true,"fill":"black","stroke":"black","strokeWidth":1,"size":40,"opacity":1},"encoding":{"y":{"field":"d","type":"quantitative"}}}]},
{"data":{"name":"ann"},"transform":[{"filter":"datum.p==='H'"}],"layer":[
{"mark":{"type":"text","fontSize":17,"fontWeight":"bold","align":"left","baseline":"middle","color":"black"},"encoding":{"text":{"field":"k"},"x":{"datum":-4.14},"y":{"datum":65.4}}},
{"mark":{"type":"rule","color":"black"},"encoding":{"x":{"datum":9.3},"x2":{"datum":11.6},"y":{"datum":62.6}}},
{"mark":{"type":"rule","color":"black"},"encoding":{"x":{"datum":9.3},"x2":{"datum":11.6},"y":{"datum":52.8}}},
{"mark":{"type":"point","shape":"circle","filled":true,"fill":"black","stroke":"black","size":40,"opacity":1},"encoding":{"x":{"datum":10.45},"y":{"datum":62.6}}},
{"mark":{"type":"point","shape":"circle","filled":true,"fill":"white","stroke":"black","size":40,"opacity":1},"encoding":{"x":{"datum":10.45},"y":{"datum":52.8}}},
{"mark":{"type":"text","fontSize":11,"align":"left","baseline":"middle"},"encoding":{"text":{"field":"l1"},"x":{"datum":12.15},"y":{"datum":62.6}}},
{"mark":{"type":"text","fontSize":11,"align":"left","baseline":"middle"},"encoding":{"text":{"field":"l2"},"x":{"datum":12.5},"y":{"datum":58}}},
{"mark":{"type":"text","fontSize":11,"align":"left","baseline":"middle"},"encoding":{"text":{"field":"l3"},"x":{"datum":12.15},"y":{"datum":52.8}}},
{"mark":{"type":"rule","color":"black","strokeDash":[2,1.5]},"encoding":{"x":{"datum":1.4},"y":{"datum":4.5},"y2":{"datum":11}}},
{"mark":{"type":"rule","color":"black"},"encoding":{"x":{"datum":1.88},"y":{"datum":4.5},"y2":{"datum":11}}},
{"mark":{"type":"point","shape":"M0,-1L0.55,1L-0.55,1Z","filled":true,"fill":"white","stroke":"black","strokeWidth":0.8,"size":49,"opacity":1},"encoding":{"x":{"datum":1.4},"y":{"datum":12.2}}},
{"mark":{"type":"point","shape":"M0,-1L0.55,1L-0.55,1Z","filled":true,"fill":"black","stroke":"black","strokeWidth":0.8,"size":49,"opacity":1},"encoding":{"x":{"datum":1.88},"y":{"datum":12.2}}},
{"mark":{"type":"text","fontSize":13,"align":"left","baseline":"alphabetic","text":"i.p."},"encoding":{"x":{"datum":2.26},"y":{"datum":5.8}}}]}]}
]}]
}
